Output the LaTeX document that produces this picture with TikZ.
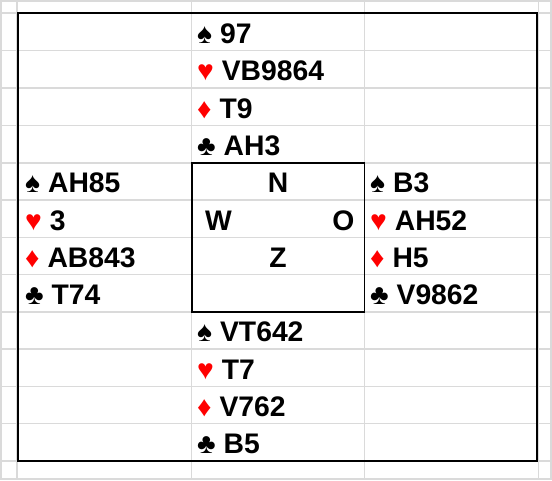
\documentclass[tikz,border=0pt]{standalone}
\usepackage{fontspec}
\setmainfont{Liberation Sans}
\usepackage{tikz}
\usetikzlibrary{positioning}
\definecolor{gridgray}{RGB}{218,218,218}
\definecolor{suitred}{RGB}{255,0,0}
\newcommand{\spadesym}{{\color{black}♠}}
\newcommand{\heartsym}{{\color{suitred}♥}}
\newcommand{\diamsym}{{\color{suitred}♦}}
\newcommand{\clubsym}{{\color{black}♣}}
\tikzset{
  hand/.style={anchor=base west, inner sep=0pt,
    font=\fontsize{28.3}{30}\selectfont\bfseries},
  compass/.style={inner sep=0pt,
    font=\fontsize{28.3}{30}\selectfont\bfseries},
  gridline/.style={gridgray, line width=1.5pt},
  frame/.style={black, line width=2pt},
  tablebox/.style={black, line width=1.5pt}
}

\begin{document}
\begin{tikzpicture}[x=1pt, y=-1pt]
  \useasboundingbox[fill=white] (0,0) rectangle (552,480);

  % Sheet grid
  \foreach \gx in {1,17,191.5,364.5,538.5,551}
    \draw[gridline] (\gx,0) -- (\gx,480);
  \foreach \gy in {1,13,50.5,88,125.5,163,200,237.5,274.5,312,349,386.5,423.5,461,479}
    \draw[gridline] (0,\gy) -- (552,\gy);

  % Frame and table
  \draw[frame] (18,13) rectangle (537,461);
  \draw[tablebox] (192,163) rectangle (364.5,312);

  % North
  \node[hand] (northS) at (197,43) {\spadesym\ 97};
  \node[hand] (northH) at (197,80.5) {\heartsym\ VB9864};
  \node[hand] (northD) at (197,118) {\diamsym\ T9};
  \node[hand] (northC) at (197,155.5) {\clubsym\ AH3};

  % West
  \node[hand] (westS) at (25,192.5) {\spadesym\ AH85};
  \node[hand] (westH) at (25,230) {\heartsym\ 3};
  \node[hand] (westD) at (25,267) {\diamsym\ AB843};
  \node[hand] (westC) at (25,304.5) {\clubsym\ T74};

  % East
  \node[hand] (eastS) at (370,192.5) {\spadesym\ B3};
  \node[hand] (eastH) at (370,230) {\heartsym\ AH52};
  \node[hand] (eastD) at (370,267) {\diamsym\ H5};
  \node[hand] (eastC) at (370,304.5) {\clubsym\ V9862};

  % South
  \node[hand] (southS) at (197,341.5) {\spadesym\ VT642};
  \node[hand] (southH) at (197,379) {\heartsym\ T7};
  \node[hand] (southD) at (197,416) {\diamsym\ V762};
  \node[hand] (southC) at (197,453.5) {\clubsym\ B5};

  % Compass
  \node[compass, anchor=base] (N) at (278,192.5) {N};
  \node[compass, anchor=base west] (W) at (205,230) {W};
  \node[compass, anchor=base east] (O) at (354.5,230) {O};
  \node[compass, anchor=base] (Z) at (278,267) {Z};
\end{tikzpicture}
\end{document}
